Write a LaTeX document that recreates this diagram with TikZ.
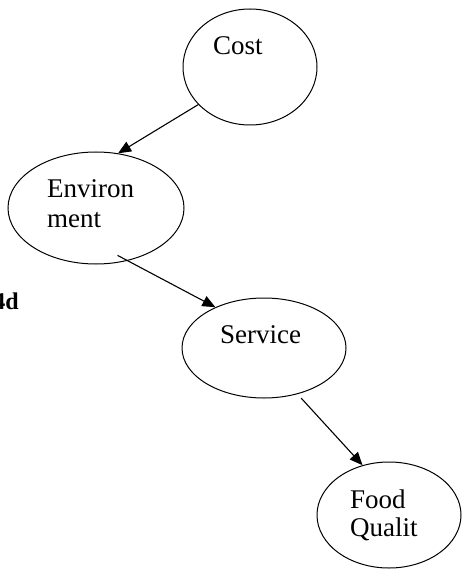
\documentclass[tikz,border=0pt]{standalone}
\usepackage{fontspec}
\setmainfont{Liberation Serif}
\usetikzlibrary{shapes.geometric,arrows.meta}
\begin{document}
\begin{tikzpicture}[x=1pt,y=-1pt,
  bubble/.style={draw, ellipse, line width=1pt, inner sep=0pt},
  lbl/.style={anchor=base west, inner sep=0pt, font=\fontsize{27}{30}\selectfont},
  arr/.style={draw, line width=1.1pt, -{Triangle[length=13pt,width=11pt]}}]
\useasboundingbox (0,0) rectangle (462,569);

% factor bubbles
\node[bubble, minimum width=134pt, minimum height=116pt] (cost) at (250,67) {};
\node[bubble, minimum width=176pt, minimum height=112pt] (env) at (96,208) {};
\node[bubble, minimum width=164pt, minimum height=100pt] (svc) at (264,348) {};
\node[bubble, minimum width=144pt, minimum height=106pt] (food) at (389,515) {};

% labels
\node[lbl] (costtxt) at (213,55) {Cost};
\node[lbl] (envtxt1) at (47,197) {Environ};
\node[lbl] (envtxt2) at (47,227) {ment};
\node[lbl] (svctxt) at (220,343) {Service};
\node[lbl] (foodtxt1) at (350,508) {Food};
\node[lbl] (foodtxt2) at (350,536) {Qualit};

% fragment at the left margin
\node[anchor=base east, inner sep=0pt, font=\fontsize{24}{28}\selectfont\bfseries] (side) at (19,309) {4d};

% links
\draw[arr] (cost.216) -- (env.68.5);
\draw[arr, shorten <=-11.5pt] (env.-59) -- (svc.140);
\draw[arr, shorten <=5.5pt] (svc.-54) -- (food.118);
\end{tikzpicture}
\end{document}
